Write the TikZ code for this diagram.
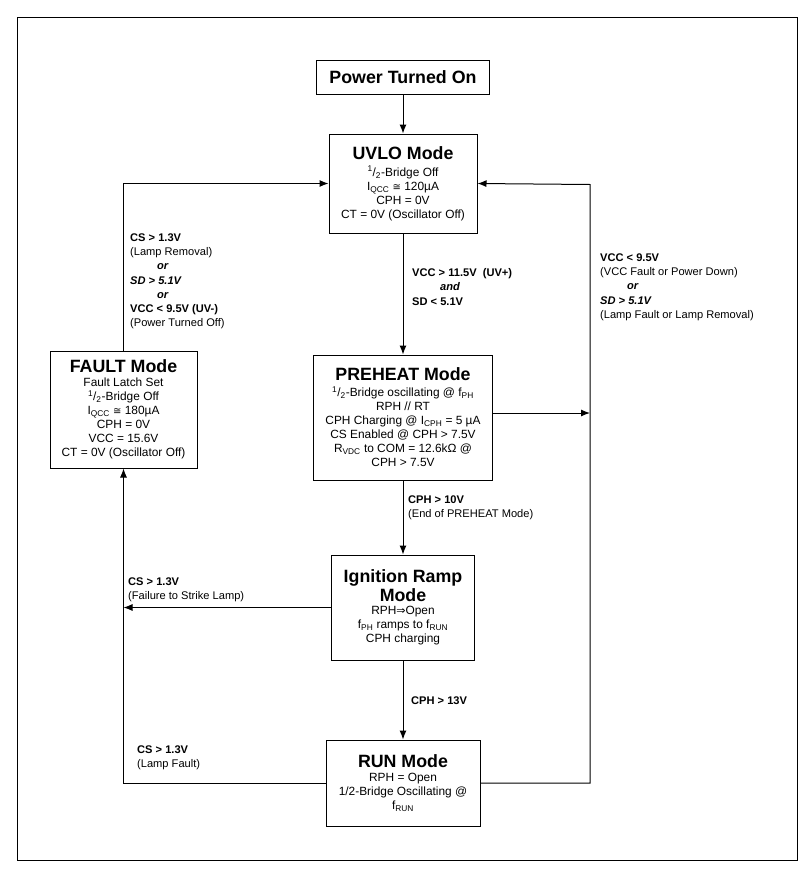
\documentclass[tikz,border=0pt]{standalone}
\usepackage{fontspec}
\setmainfont{Liberation Sans}
\newfontfamily\symfont{DejaVu Sans}
\usetikzlibrary{arrows.meta}
\usetikzlibrary{positioning}
\newcommand{\modetitle}[1]{{\fontsize{17.8}{20}\selectfont\bfseries #1}}
\newcommand{\half}{\textsuperscript{1}/\textsubscript{2}}
\tikzstyle{modeblock} = [rectangle, draw=black, line width=1pt, align=center, inner sep=2pt,
  font=\fontsize{11.9}{14}\selectfont]
\tikzstyle{condlabel} = [anchor=north west, inner sep=0pt, align=left,
  font=\fontsize{11.1}{14.2}\selectfont]
\tikzstyle{arrow} = [line width=1pt,-{Latex[length=9pt,width=7pt]}]

\begin{document}
\begin{tikzpicture}[x=1pt,y=-1pt]
  \useasboundingbox (0,0) rectangle (811,873);
  \draw[line width=1pt] (17,17) rectangle (797,860);
  % states down the middle
  \node (power) [modeblock, minimum width=173pt, minimum height=34pt] at (403,77) {\modetitle{Power Turned On}};
  \node (uvlo) [modeblock, below=39pt of power, minimum width=148pt, minimum height=99pt]
    {\modetitle{UVLO Mode}\\[3pt] \half-Bridge Off\\ I\textsubscript{QCC} {\symfont\fontsize{10}{12}\selectfont≅} 120µA\\ CPH = 0V\\ CT = 0V (Oscillator Off)};
  \node (preheat) [modeblock, below=121pt of uvlo, minimum width=179pt, minimum height=125pt]
    {\modetitle{PREHEAT Mode}\\[2pt] \half-Bridge oscillating @ f\textsubscript{PH}\\ RPH // RT\\ CPH Charging @ I\textsubscript{CPH} = 5 µA\\
     CS Enabled @ CPH > 7.5V\\ R\textsubscript{VDC} to COM = 12.6kΩ @\\ CPH > 7.5V};
  \node (ign) [modeblock, below=74pt of preheat, minimum width=143pt, minimum height=105pt]
    {\modetitle{Ignition Ramp}\\[1pt] \modetitle{Mode}\\[-1pt] RPH{\symfont\fontsize{11}{12}\selectfont⇒}Open\\ f\textsubscript{PH} ramps to f\textsubscript{RUN}\\ CPH charging};
  \node (run) [modeblock, below=79pt of ign, minimum width=154pt, minimum height=86pt]
    {\modetitle{RUN Mode}\\ RPH = Open\\ 1/2-Bridge Oscillating @\\ f\textsubscript{RUN}};
  \node (fault) [modeblock, minimum width=147pt, minimum height=117pt] at (123.5,409.5)
    {\modetitle{FAULT Mode}\\ Fault Latch Set\\ \half-Bridge Off\\ I\textsubscript{QCC} {\symfont\fontsize{10}{12}\selectfont≅} 180µA\\ CPH = 0V\\ VCC = 15.6V\\ CT = 0V (Oscillator Off)};
  \coordinate (rside) at (590,184.5);
  % transitions
  \draw [arrow] (power) -- (uvlo);
  \draw [arrow] (uvlo) -- (preheat);
  \draw [arrow] (preheat) -- (ign);
  \draw [arrow] (ign) -- (run);
  \draw [arrow] (fault.north) |- (uvlo.west);
  \draw [arrow] (run.east) -- (run.east -| rside) -- (rside) -- (uvlo.east);
  \draw [arrow] ([yshift=4.5pt]preheat.east) -- ([yshift=4.5pt]preheat.east -| rside);
  \draw [arrow] (ign.west) -- (ign.west -| fault.south);
  \draw [arrow] (run.west) -| (fault.south);
  % conditions
  \node (c1) [condlabel] at (130,233.5) {\textbf{CS > 1.3V}\\ (Lamp Removal)\\ \hspace*{27pt}\textbf{\textit{or}}\\ \textbf{\textit{SD > 5.1V}}\\
    \hspace*{27pt}\textbf{\textit{or}}\\ \textbf{VCC < 9.5V (UV-)}\\ (Power Turned Off)};
  \node (c2) [condlabel] at (412,268.5) {\textbf{VCC > 11.5V\ \ (UV+)}\\ \hspace*{28pt}\textbf{\textit{and}}\\ \textbf{SD < 5.1V}};
  \node (c3) [condlabel] at (600,253.5) {\textbf{VCC < 9.5V}\\ (VCC Fault or Power Down)\\ \hspace*{27pt}\textbf{\textit{or}}\\ \textbf{\textit{SD > 5.1V}}\\ (Lamp Fault or Lamp Removal)};
  \node (c4) [condlabel] at (408,495.5) {\textbf{CPH > 10V}\\ (End of PREHEAT Mode)};
  \node (c5) [condlabel] at (128,577.5) {\textbf{CS > 1.3V}\\ (Failure to Strike Lamp)};
  \node (c6) [condlabel] at (411,696.5) {\textbf{CPH > 13V}};
  \node (c7) [condlabel] at (137,745.5) {\textbf{CS > 1.3V}\\ (Lamp Fault)};
\end{tikzpicture}
\end{document}
